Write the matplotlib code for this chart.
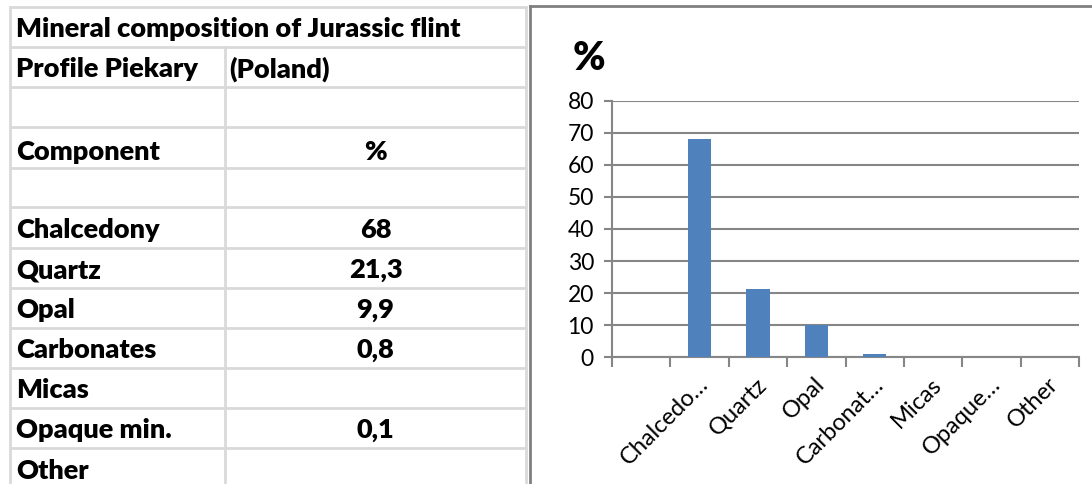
import numpy as np
import matplotlib
matplotlib.use("Agg")
import matplotlib.pyplot as plt
import matplotlib.transforms as mtransforms

# table content
title = "Mineral composition of Jurassic flint"
header_rows = [("Profile Piekary", "(Poland)"), ("", ""), ("Component", "%"), ("", "")]
components = ["Chalcedony", "Quartz", "Opal", "Carbonates", "Micas", "Opaque min.", "Other"]
percent = [68, 21.3, 9.9, 0.8, np.nan, 0.1, np.nan]

# chart categories (the blank row above Chalcedony is also a category)
chart_values = [np.nan] + percent
tick_labels = ["", "Chalcedo…", "Quartz", "Opal", "Carbonat…", "Micas", "Opaque…", "Other"]
yticks = [0, 10, 20, 30, 40, 50, 60, 70, 80]

W, H = 1092, 484
fig = plt.figure(figsize=(W / 100, H / 100), dpi=100)

# ---- spreadsheet table, drawn in pixel coordinates ----
bg = fig.add_axes([0, 0, 1, 1])
bg.set_xlim(0, W)
bg.set_ylim(H, 0)
bg.axis("off")

grid = "#d9d9d9"
x_left, x_mid, x_right = 10, 225, 526
row_edges = [7, 47, 87, 127, 168, 207, 248, 288, 328, 368, 408, 448, 490]

def fmt(v):
    if np.isnan(v):
        return ""
    return f"{v:g}".replace(".", ",")

rows = header_rows + [(c, fmt(v)) for c, v in zip(components, percent)]

for y in row_edges:
    bg.plot([x_left, x_right], [y, y], color=grid, lw=2, solid_capstyle="butt")
bg.plot([x_left, x_left], [row_edges[0], H], color=grid, lw=2)
bg.plot([x_right, x_right], [row_edges[0], H], color=grid, lw=2)
bg.plot([x_mid, x_mid], [row_edges[1], H], color=grid, lw=2)

fnt = dict(family="Lato", weight="heavy", fontsize=19.5, color="black")
bg.text(x_left + 6, (row_edges[0] + row_edges[1]) / 2 + 2, title, va="center", ha="left", **fnt)
for i, (name, val) in enumerate(rows):
    yc = (row_edges[i + 1] + row_edges[i + 2]) / 2 + 2
    if name == "Component":
        yc += 3
    bg.text(x_left + 6, yc, name, va="center", ha="left", **fnt)
    if name == "Profile Piekary":
        bg.text(x_mid + 4, yc, val, va="center", ha="left", **fnt)
    else:
        bg.text((x_mid + x_right) / 2, yc, val, va="center", ha="center", **fnt)

# chart area frame
frame = "#808080"
bg.plot([530, 530], [6, H], color=frame, lw=2)
bg.plot([530, W], [6, 6], color=frame, lw=2)

# ---- bar chart ----
ax = fig.add_axes([612 / W, (H - 357) / H, 467 / W, 256 / H])
x = np.arange(len(chart_values))
ax.bar(x, chart_values, width=0.4, color="#4f81bd", zorder=3)

ax.set_xlim(-0.5, len(chart_values) - 0.5)
ax.set_ylim(0, 80)
ax.set_yticks(yticks)
ax.yaxis.grid(True, color="#868686", lw=1.5, zorder=0)
for s in ["top", "right"]:
    ax.spines[s].set_visible(False)
ax.spines["left"].set_color("#868686")
ax.spines["left"].set_linewidth(1.5)
ax.spines["bottom"].set_color("#868686")
ax.spines["bottom"].set_linewidth(1.5)
ax.tick_params(axis="y", length=6, width=1.5, color="#868686", pad=7,
               labelsize=16.5, labelfontfamily="Lato")

ax.set_xticks(np.arange(-0.5, len(chart_values)), minor=True)
ax.tick_params(axis="x", which="minor", length=7, width=1.5, color="#868686")
ax.set_xticks(x)
ax.set_xticklabels(tick_labels, rotation=45, ha="right", va="top",
                   rotation_mode="anchor", fontsize=17, family="Lato")
ax.tick_params(axis="x", which="major", length=0, pad=12)
shift = mtransforms.ScaledTranslation(-2 / 100, 0, fig.dpi_scale_trans)
for lab in ax.get_xticklabels():
    lab.set_transform(lab.get_transform() + shift)

fig.text(573 / W, 1 - 59 / H, "%", fontsize=28, weight="heavy", family="Lato",
         ha="left", va="center")

fig.savefig("out.png", dpi=100)
